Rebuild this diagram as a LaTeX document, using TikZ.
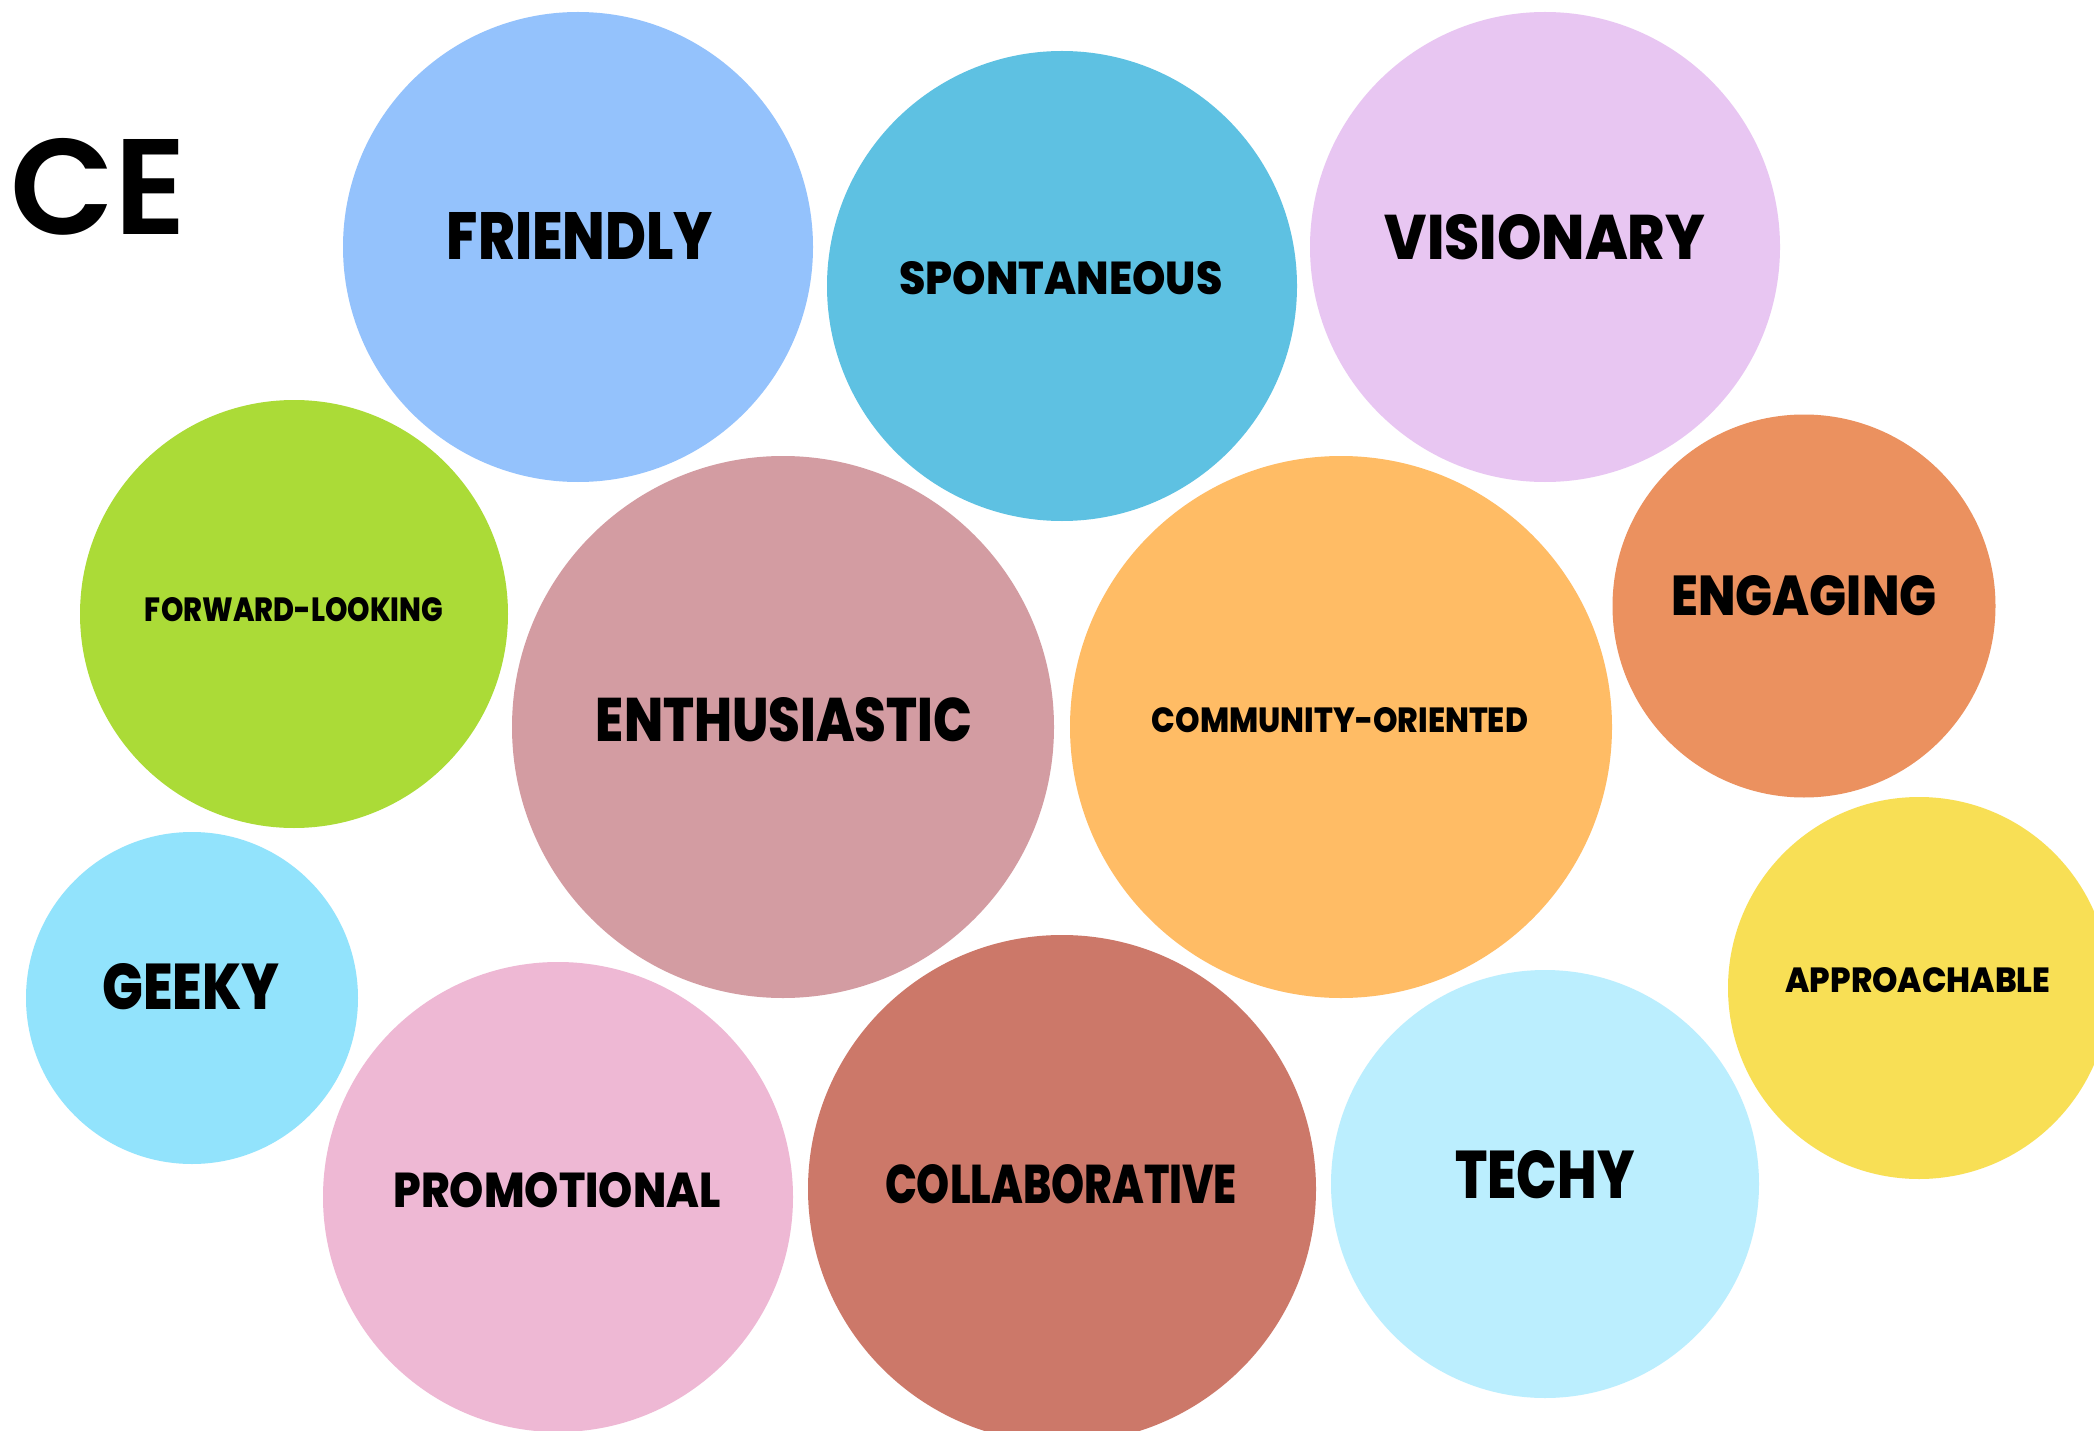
\documentclass[tikz,border=0pt]{standalone}
\usepackage{fontspec}
\usepackage{graphicx}
\setmainfont{Poppins}
\newfontfamily\labfont{Poppins ExtraBold}
\newfontfamily\cefont{Poppins SemiBold}
\definecolor{cFriendly}{HTML}{94C2FC}
\definecolor{cSpont}{HTML}{5EC1E2}
\definecolor{cVision}{HTML}{E8C6F2}
\definecolor{cForward}{HTML}{ABDB37}
\definecolor{cEnthus}{HTML}{D39CA2}
\definecolor{cCommunity}{HTML}{FFBC65}
\definecolor{cEngaging}{HTML}{EB915F}
\definecolor{cGeeky}{HTML}{92E3FC}
\definecolor{cPromo}{HTML}{EEB8D4}
\definecolor{cCollab}{HTML}{CC7869}
\definecolor{cTechy}{HTML}{BBEEFE}
\definecolor{cApproach}{HTML}{F8DF55}
\newcommand{\fitlab}[3]{\resizebox{#1pt}{#2pt}{\labfont #3}}
\tikzset{
  bub/.style={circle, inner sep=0pt, draw=none, minimum size=#1},
  lab/.style={inner sep=0pt, text=black}
}
\begin{document}
\begin{tikzpicture}[x=1pt,y=-1pt]
\useasboundingbox (0,0) rectangle (2094,1431);
\fill[white] (0,0) rectangle (2094,1431);
\begin{scope}
\clip (0,0) rectangle (2094,1431);
\node[bub=470pt, fill=cFriendly] (friendly) at (578,247) {};
\node[bub=470pt, fill=cSpont] (spont) at (1062,286) {};
\node[bub=470pt, fill=cVision] (vision) at (1545,247) {};
\node[bub=428pt, fill=cForward] (forward) at (294,614) {};
\node[bub=542pt, fill=cEnthus] (enthus) at (783,727) {};
\node[bub=542pt, fill=cCommunity] (community) at (1341,727) {};
\node[bub=383pt, fill=cEngaging] (engaging) at (1804,606) {};
\node[bub=332pt, fill=cGeeky] (geeky) at (192,998) {};
\node[bub=470pt, fill=cPromo] (promo) at (558,1197) {};
\node[bub=508pt, fill=cCollab] (collab) at (1062,1189) {};
\node[bub=428pt, fill=cTechy] (techy) at (1545,1184) {};
\node[bub=382pt, fill=cApproach] (approach) at (1919,988) {};
\end{scope}
\node[lab] (ce) at (99,187) {\resizebox{176pt}{96pt}{\cefont CE}};
\node[lab] (tFriendly) at (580,236) {\fitlab{266}{47}{FRIENDLY}};
\node[lab] (tSpont) at (1061,278) {\fitlab{323}{33}{SPONTANEOUS}};
\node[lab] (tVision) at (1545,237) {\fitlab{320}{45}{VISIONARY}};
\node[lab] (tForward) at (294,610) {\fitlab{298}{24}{FORWARD-LOOKING}};
\node[lab] (tEnthus) at (784,720) {\fitlab{376}{44}{ENTHUSIASTIC}};
\node[lab] (tCommunity) at (1340,720) {\fitlab{376}{25}{COMMUNITY-ORIENTED}};
\node[lab] (tEngaging) at (1804,596) {\fitlab{265}{40}{ENGAGING}};
\node[lab] (tGeeky) at (191,987) {\fitlab{177}{46}{GEEKY}};
\node[lab] (tPromo) at (557,1190) {\fitlab{327}{35}{PROMOTIONAL}};
\node[lab] (tCollab) at (1061,1184) {\fitlab{352}{39}{COLLABORATIVE}};
\node[lab] (tTechy) at (1545,1175) {\fitlab{179}{48}{TECHY}};
\node[lab] (tApproach) at (1918,980) {\fitlab{265}{25}{APPROACHABLE}};
\end{tikzpicture}
\end{document}
